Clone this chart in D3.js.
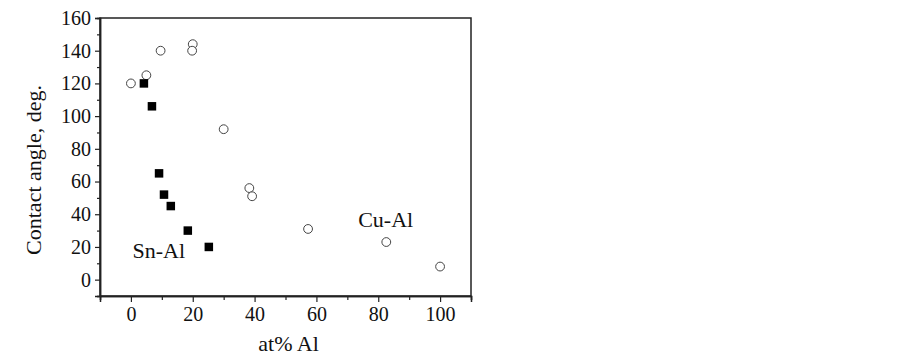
<!DOCTYPE html>
<html>
<head>
<meta charset="utf-8">
<script src="https://cdn.jsdelivr.net/npm/d3@7"></script>
<style>
  body { margin: 0; background: #fff; }
  svg text { font-family: 'Liberation Serif', 'Times New Roman', serif; }
</style>
</head>
<body>
<script>
// Cu-Al (open circles)
const cuAlX = [0, 5, 9.6, 20, 19.8, 30, 38.3, 39.2, 57.3, 82.6, 100];
const cuAlY = [120, 125, 140, 144, 140, 92, 56, 51, 31, 23, 8];
// Sn-Al (filled squares)
const snAlX = [4.2, 6.8, 9.1, 10.7, 12.9, 18.4, 25.2];
const snAlY = [120, 106, 65, 52, 45, 30, 20];

const xMajor = [0, 20, 40, 60, 80, 100];
const xMinor = [-10, 10, 30, 50, 70, 90, 110];
const yMajor = [0, 20, 40, 60, 80, 100, 120, 140, 160];
const yMinor = [-10, 10, 30, 50, 70, 90, 110, 130, 150];

const width = 902;
const height = 355;
const margin = {top: 18, right: 431, bottom: 59, left: 100};
const w = width - margin.left - margin.right;
const h = height - margin.top - margin.bottom;
const serif = "'Liberation Serif', 'Times New Roman', serif";

const svg = d3.select("body").append("svg")
  .attr("width", width)
  .attr("height", height);

const g = svg.append("g")
  .attr("transform", `translate(${margin.left}, ${margin.top})`);

const xscale = d3.scaleLinear().domain([-10, 110]).range([0, w]);
const yscale = d3.scaleLinear().domain([-10, 160]).range([h, 0]);

// frame
g.append("rect")
  .attr("width", w)
  .attr("height", h)
  .attr("fill", "none")
  .attr("stroke", "#222")
  .attr("stroke-width", 1.5);

// x axis
const xaxis = g.append("g")
  .attr("transform", `translate(0, ${h})`);
xaxis.append("g")
  .call(d3.axisBottom(xscale).tickValues(xMinor).tickSize(4).tickFormat(""));
xaxis.append("g")
  .call(d3.axisBottom(xscale).tickValues(xMajor).tickSize(6).tickPadding(5).tickFormat(d3.format("d")));

// y axis
const yaxis = g.append("g");
yaxis.append("g")
  .call(d3.axisLeft(yscale).tickValues(yMinor).tickSize(3).tickFormat(""));
yaxis.append("g")
  .call(d3.axisLeft(yscale).tickValues(yMajor).tickSize(5).tickPadding(4).tickFormat(d3.format("d")));

g.selectAll(".domain").attr("stroke", "#222").attr("stroke-width", 1.5);
g.selectAll(".tick line").attr("stroke", "#222").attr("stroke-width", 1.2);
g.selectAll("g").attr("font-family", null);
g.selectAll(".tick text")
  .attr("fill", "#111")
  .style("font-family", serif)
  .style("font-size", "20px");

// axis titles
g.append("text")
  .attr("x", w / 2 + 3)
  .attr("y", h + 55)
  .attr("text-anchor", "middle")
  .style("font-size", "22px")
  .attr("fill", "#111")
  .text("at% Al");

g.append("text")
  .attr("transform", "rotate(-90)")
  .attr("x", -152)
  .attr("y", -59)
  .attr("text-anchor", "middle")
  .style("font-size", "22px")
  .attr("fill", "#111")
  .text("Contact angle, deg.");

// points
const cuAl = cuAlX.map((x, i) => ({x: x, y: cuAlY[i]}));
const snAl = snAlX.map((x, i) => ({x: x, y: snAlY[i]}));

g.selectAll("circle")
  .data(cuAl)
  .enter()
  .append("circle")
  .attr("cx", d => xscale(d.x))
  .attr("cy", d => yscale(d.y))
  .attr("r", 4.4)
  .attr("fill", "#fff")
  .attr("stroke", "#444")
  .attr("stroke-width", 1);

const s = 8.5;
g.selectAll("rect.sq")
  .data(snAl)
  .enter()
  .append("rect")
  .attr("class", "sq")
  .attr("x", d => xscale(d.x) - s / 2)
  .attr("y", d => yscale(d.y) - s / 2)
  .attr("width", s)
  .attr("height", s)
  .attr("fill", "#000");

// series labels
g.append("text")
  .attr("x", xscale(0.5))
  .attr("y", yscale(13.5))
  .style("font-size", "22px")
  .attr("fill", "#111")
  .text("Sn-Al");

g.append("text")
  .attr("x", xscale(73.5))
  .attr("y", yscale(32.5))
  .style("font-size", "22px")
  .attr("fill", "#111")
  .text("Cu-Al");
</script>
</body>
</html>
